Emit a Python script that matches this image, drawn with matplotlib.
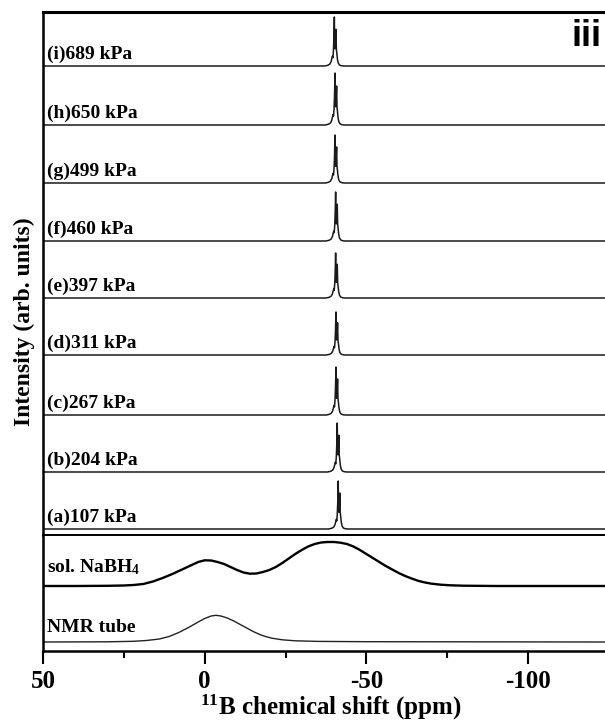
import numpy as np
import matplotlib.pyplot as plt

plt.rcParams['font.family'] = 'serif'
plt.rcParams['font.serif'] = ['Liberation Serif', 'DejaVu Serif']
plt.rcParams['font.weight'] = 'bold'
plt.rcParams['axes.unicode_minus'] = False
plt.rcParams['mathtext.fontset'] = 'custom'
plt.rcParams['mathtext.rm'] = 'Liberation Serif:bold'
plt.rcParams['mathtext.it'] = 'Liberation Serif:bold'
plt.rcParams['mathtext.bf'] = 'Liberation Serif:bold'

# pressure series, bottom (a) to top (i)
labels = ['(a)107 kPa', '(b)204 kPa', '(c)267 kPa', '(d)311 kPa', '(e)397 kPa',
          '(f)460 kPa', '(g)499 kPa', '(h)650 kPa', '(i)689 kPa']
baselines = [6, 63, 120, 180, 237, 294, 352, 410, 469]
peak_ppm = [-41.3, -41.0, -40.6, -40.6, -40.5, -40.5, -40.3, -40.3, -40.1]
peak_height = [48, 49, 48, 43, 45, 49, 48, 52, 49]

# line shape of the BH4 multiplet: offset from centre (ppm, upfield +) and fraction of peak
shape_dppm = [-3.0, -2.0, -1.4, -1.0, -0.75, -0.6, -0.45, -0.3, -0.15, 0.0, 0.1,
              0.22, 0.35, 0.5, 0.62, 0.78, 0.95, 1.2, 1.6, 2.2, 3.0]
shape_frac = [0, 0.015, 0.04, 0.09, 0.16, 0.2, 0.17, 0.3, 0.55, 1.0, 0.45,
              0.35, 0.5, 0.75, 0.35, 0.25, 0.14, 0.06, 0.02, 0.005, 0]

# reference spectra (height above their own baselines)
sol_ppm = [50, 40, 30, 25, 22, 19, 16, 13, 10, 7, 4, 2, 0, -2, -4, -6, -8, -10,
           -12, -14, -16, -18, -20, -22, -24, -26, -28, -30, -32, -34, -36, -38,
           -40, -42, -44, -46, -48, -50, -52, -54, -56, -58, -60, -62, -64, -66,
           -68, -70, -73, -76, -80, -90, -124]
sol_int = [0, 0, 0.2, 0.5, 1, 2, 4.5, 8, 12, 16.5, 21, 24, 25.7, 25.5, 24, 22,
           19, 16, 13.5, 12.3, 12.5, 14, 16, 19, 23, 27.5, 32, 36, 39.5, 42,
           43.5, 44, 44, 43.3, 42, 39.5, 36, 32, 28, 24, 20, 16.5, 13, 10, 7.5,
           5.2, 3.6, 2.4, 1.3, 0.7, 0.3, 0, 0]
tube_ppm = [50, 30, 22, 18, 14, 11, 8, 5, 2, 0, -2, -3.5, -5, -7, -9, -11, -13,
            -15, -17, -19, -21, -24, -28, -35, -50, -124]
tube_int = [0, 0.2, 0.7, 1.5, 3, 5.5, 9.5, 14.5, 20, 23.5, 26, 26.7, 26, 24, 21,
            17.5, 14, 10.5, 7.5, 5.3, 3.7, 2.2, 1.2, 0.6, 0.3, 0]
sol_base = 65
tube_base = 9

fig = plt.figure(figsize=(6.05, 7.27), dpi=100)
ax_top = fig.add_axes((43 / 605, 192 / 727, 562 / 605, 523 / 727))
ax_bot = fig.add_axes((43 / 605, 76 / 727, 562 / 605, 116 / 727), sharex=ax_top)

for ax in (ax_top, ax_bot):
    ax.spines['right'].set_visible(False)
    ax.spines['left'].set_linewidth(1.8)
    ax.set_yticks([])
ax_top.spines['top'].set_linewidth(2.2)
ax_top.spines['bottom'].set_linewidth(1.4)
ax_bot.spines['top'].set_linewidth(1.4)
ax_bot.spines['bottom'].set_linewidth(1.8)

for lab, base, c, h in zip(labels, baselines, peak_ppm, peak_height):
    x = [50] + [c - d for d in shape_dppm] + [-124]
    y = [base] + [base + h * f for f in shape_frac] + [base]
    ax_top.plot(x, y, color='#1a1a1a', lw=1.1)
    ax_top.text(48.8, base + 7, lab, fontsize=14, fontweight='bold', va='baseline')

ax_top.text(0.993, 489, 'iii', transform=ax_top.get_yaxis_transform(),
            ha='right', va='baseline', fontsize=26, fontweight='bold',
            family='Liberation Sans')
ax_top.set_ylim(0, 523)
ax_top.tick_params(axis='x', which='both', bottom=False, labelbottom=False)

ax_bot.plot(sol_ppm, np.array(sol_int) + sol_base, color='black', lw=1.7)
ax_bot.plot(tube_ppm, np.array(tube_int) + tube_base, color='#222222', lw=1.0)
ax_bot.text(48.8, sol_base + 14, r'sol. NaBH$_\mathbf{4}$', fontsize=14,
            fontweight='bold', va='baseline')
ax_bot.text(48.8, tube_base + 10, 'NMR tube', fontsize=14, fontweight='bold',
            va='baseline')
ax_bot.set_ylim(0, 116)

ax_bot.set_xlim(50, -123.8)
ax_bot.set_xticks([50, 0, -50, -100])
ax_bot.set_xticks([25, -25, -75], minor=True)
ax_bot.tick_params(axis='x', which='major', direction='out', length=9, width=1.5,
                   labelsize=18, pad=5)
ax_bot.tick_params(axis='x', which='minor', direction='out', length=5, width=1.5)
ax_bot.set_xlabel(r'$^{11}$B chemical shift (ppm)', fontsize=18, fontweight='bold',
                  labelpad=0)
ax_bot.xaxis.set_label_coords(0.512, -0.36)

fig.text(24 / 605, 1 - 322 / 727, 'Intensity (arb. units)', rotation=90,
         ha='center', va='center', fontsize=17, fontweight='bold')

fig.savefig('out.png', dpi=100)
